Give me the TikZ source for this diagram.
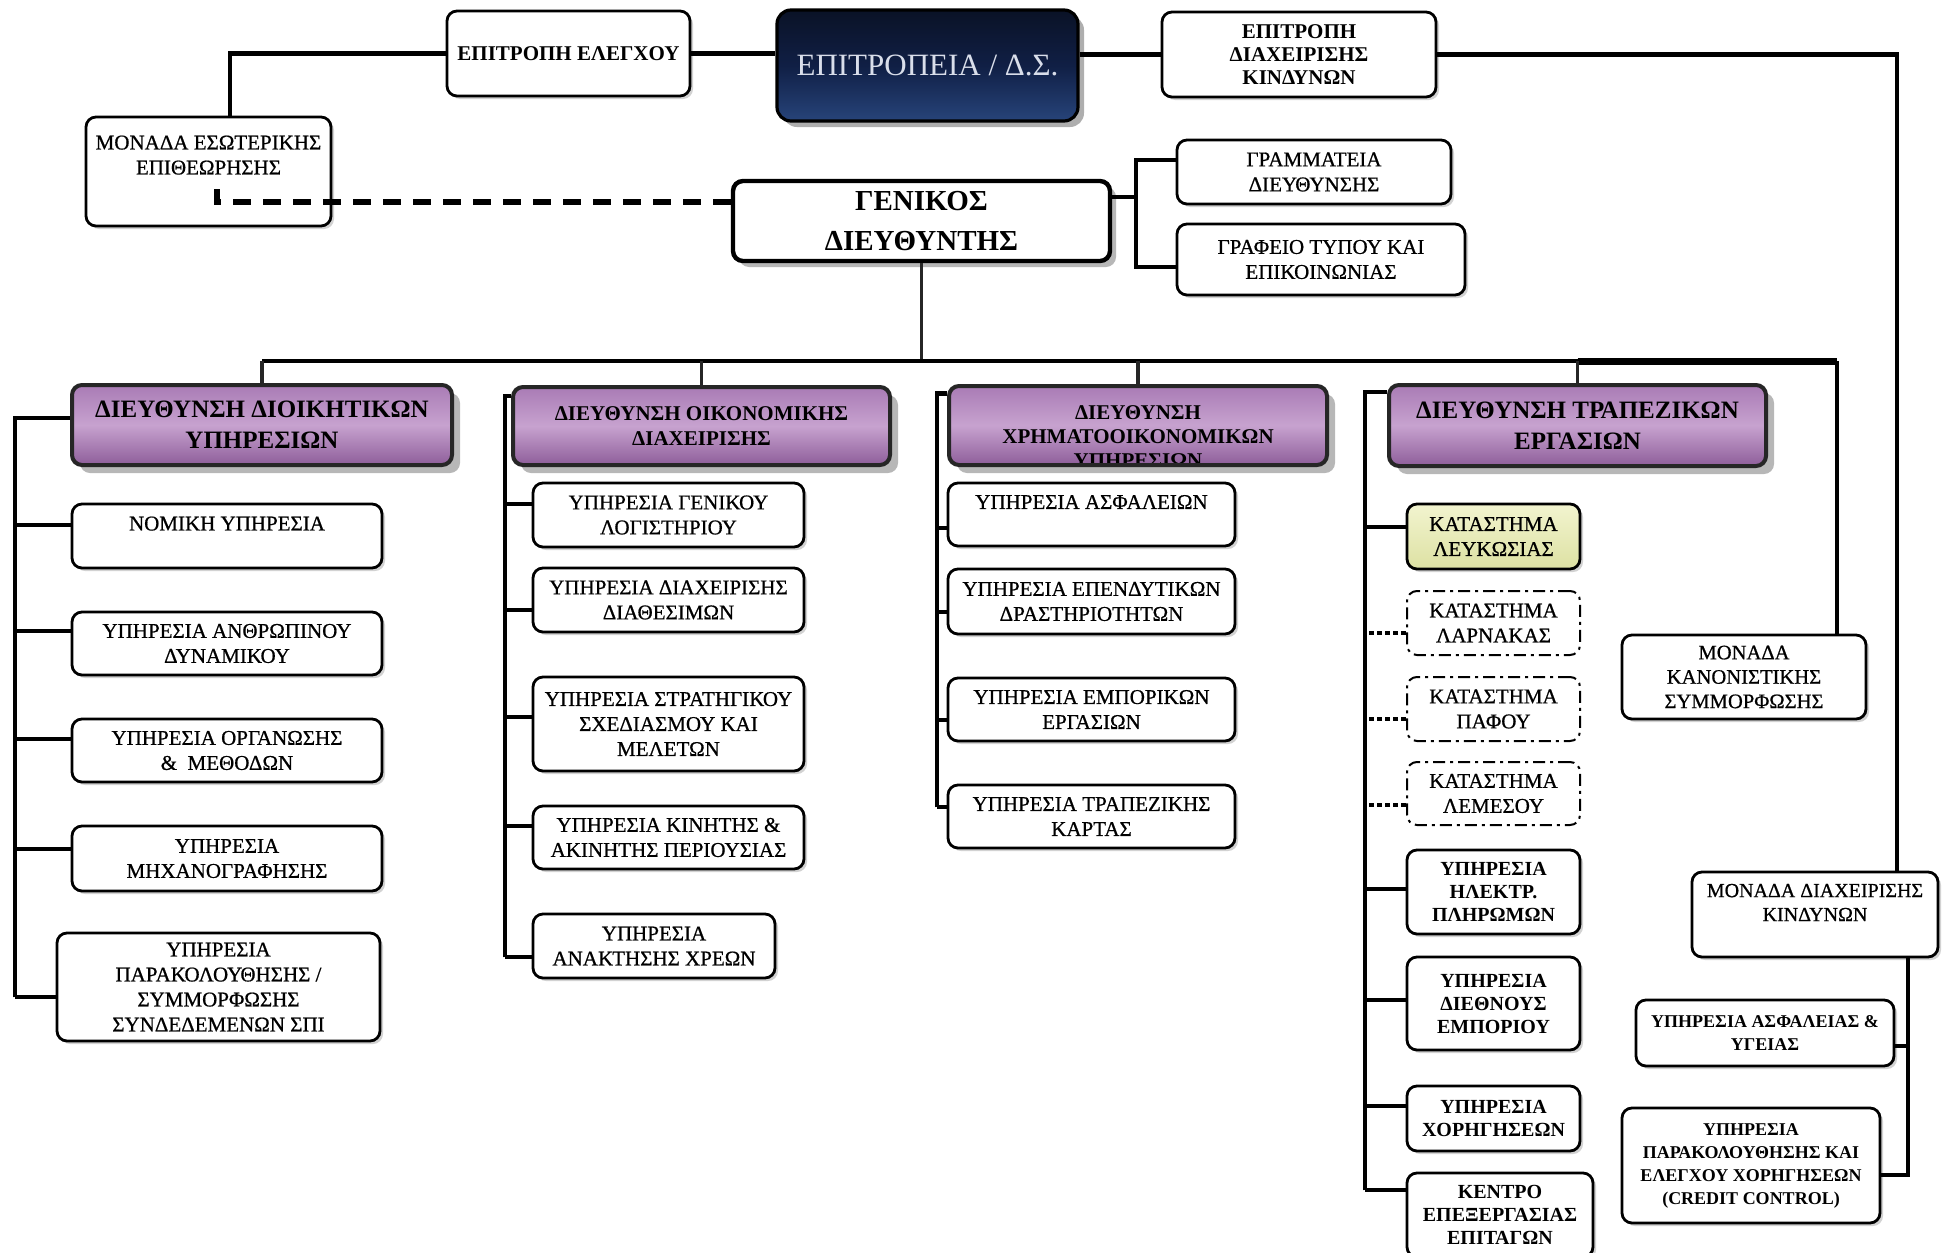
\documentclass[tikz,border=0pt]{standalone}
\usepackage{fontspec}
\setmainfont{Liberation Serif}
\newfontfamily\medfont[FakeBold=0.7]{Liberation Serif}
\usepackage{tikz}
\usetikzlibrary{shadows}

\definecolor{dirtop}{HTML}{A97BB5}
\definecolor{dirmid}{HTML}{C7A2CF}
\definecolor{dirbot}{HTML}{8E5E9A}
\definecolor{dstop}{HTML}{0A1226}
\definecolor{dsmid}{HTML}{101F45}
\definecolor{dsbot}{HTML}{27447A}
\definecolor{dstext}{HTML}{D9DEEA}
\definecolor{shoptop}{HTML}{F2F4CF}
\definecolor{shopbot}{HTML}{DDE1A3}

\tikzset{
  box/.style={draw=black, line width=1.4pt, rounded corners=5pt, fill=white, align=center, inner sep=1pt},
  boxsize/.style 2 args={minimum width=#1*0.5pt, minimum height=#2*0.5pt},
  softshadow/.style={drop shadow={shadow xshift=1.5pt, shadow yshift=-1.5pt, fill=black!35, opacity=0.5}},
  dirbox/.style={box, line width=2pt, draw=black!85, top color=dirtop, bottom color=dirbot, middle color=dirmid,
    drop shadow={shadow xshift=4pt, shadow yshift=-4pt, fill=black!40, opacity=0.7}},
  boardbox/.style={box, line width=1.6pt, rounded corners=7pt, top color=dstop, bottom color=dsbot, middle color=dsmid,
    drop shadow={shadow xshift=3pt, shadow yshift=-3pt, fill=black!45, opacity=0.7}},
  gdbox/.style={box, line width=2.2pt, drop shadow={shadow xshift=3pt, shadow yshift=-3pt, fill=black!35, opacity=0.8}},
  shopbox/.style={box, line width=1pt, dash pattern=on 6pt off 2.5pt on 1.5pt off 2.5pt},
  mainshop/.style={box, softshadow, top color=shoptop, bottom color=shopbot},
  link/.style={line width=2.3pt},
  thinlink/.style={line width=1.6pt, draw=black!85},
  dotlink/.style={line width=2.3pt, dash pattern=on 2.5pt off 1.5pt},
  dashlink/.style={line width=3pt, dash pattern=on 9pt off 6pt},
  subfont/.style={font=\medfont\fontsize{10.5}{12.5}\selectfont},
  topbold/.style={font=\fontsize{10.5}{11.5}\selectfont\bfseries},
  dsfont/.style={font=\fontsize{15.5}{18}\selectfont, text=dstext},
  gdfont/.style={font=\fontsize{14.5}{20}\selectfont\bfseries},
  bigdir/.style={font=\fontsize{12.5}{15.5}\selectfont\bfseries},
  smalldir/.style={font=\fontsize{10.5}{12.5}\selectfont\bfseries},
  boldsub/.style={font=\fontsize{10}{11.5}\selectfont\bfseries},
  rightbold/.style={font=\fontsize{9}{11.5}\selectfont\bfseries},
  rightfont/.style={font=\medfont\fontsize{10.3}{12.2}\selectfont}
}

\begin{document}
\begin{tikzpicture}[x=0.5pt,y=-0.5pt]

\fill[white] (0,0) rectangle (1951,1253);
\useasboundingbox (0,0) rectangle (1951,1253);

% Board and committees
\node[box, softshadow, topbold, boxsize={243}{85}] (elegxou) at (568.5,53.5) {ΕΠΙΤΡΟΠΗ ΕΛΕΓΧΟΥ};
\node[boardbox, dsfont, boxsize={301}{111}] (ds) at (927.5,65.5) {ΕΠΙΤΡΟΠΕΙΑ / Δ.Σ.};
\node[box, softshadow, topbold, boxsize={274}{85}] (ediax) at (1299,54.5) {ΕΠΙΤΡΟΠΗ\\ΔΙΑΧΕΙΡΙΣΗΣ\\ΚΙΝΔΥΝΩΝ};
\node[box, softshadow, subfont, boxsize={245}{109}] (mese) at (208.5,171.5) {ΜΟΝΑΔΑ ΕΣΩΤΕΡΙΚΗΣ\\ΕΠΙΘΕΩΡΗΣΗΣ\\[4pt]\mbox{}};

% General manager and staff
\node[gdbox, gdfont, boxsize={377}{80}] (gd) at (921.5,221) {ΓΕΝΙΚΟΣ\\ΔΙΕΥΘΥΝΤΗΣ};
\node[box, softshadow, subfont, boxsize={274}{64}] (gram) at (1314,172) {ΓΡΑΜΜΑΤΕΙΑ\\ΔΙΕΥΘΥΝΣΗΣ};
\node[box, softshadow, subfont, boxsize={288}{71}] (graf) at (1321,259.5) {ΓΡΑΦΕΙΟ ΤΥΠΟΥ ΚΑΙ\\ΕΠΙΚΟΙΝΩΝΙΑΣ};

% Directorates
\node[dirbox, bigdir, boxsize={380}{80}] (dioik) at (262,425) {ΔΙΕΥΘΥΝΣΗ ΔΙΟΙΚΗΤΙΚΩΝ\\ΥΠΗΡΕΣΙΩΝ};
\node[dirbox, smalldir, boxsize={377}{78}] (oik) at (701.5,426) {ΔΙΕΥΘΥΝΣΗ ΟΙΚΟΝΟΜΙΚΗΣ\\ΔΙΑΧΕΙΡΙΣΗΣ};
\node[dirbox, boxsize={378}{79},
  path picture={\node[align=center, inner sep=0pt, font=\fontsize{10.5}{12}\selectfont\bfseries] (xrimtext)
    at ([yshift=-5.5pt]path picture bounding box.center) {ΔΙΕΥΘΥΝΣΗ\\ΧΡΗΜΑΤΟΟΙΚΟΝΟΜΙΚΩΝ\\ΥΠΗΡΕΣΙΩΝ};}]
  (xrim) at (1138,425.5) {};
\node[dirbox, bigdir, boxsize={377}{81}] (trap) at (1577.5,425.5) {ΔΙΕΥΘΥΝΣΗ ΤΡΑΠΕΖΙΚΩΝ\\ΕΡΓΑΣΙΩΝ};

% Administrative services
\node[box, softshadow, subfont, boxsize={310}{64}] (nom) at (227,536) {ΝΟΜΙΚΗ ΥΠΗΡΕΣΙΑ\\\mbox{}};
\node[box, softshadow, subfont, boxsize={310}{63}] (anth) at (227,643.5) {ΥΠΗΡΕΣΙΑ ΑΝΘΡΩΠΙΝΟΥ\\ΔΥΝΑΜΙΚΟΥ};
\node[box, softshadow, subfont, boxsize={310}{63}] (org) at (227,750.5) {ΥΠΗΡΕΣΙΑ ΟΡΓΑΝΩΣΗΣ\\\&\ \ ΜΕΘΟΔΩΝ};
\node[box, softshadow, subfont, boxsize={310}{65}] (mix) at (227,858.5) {ΥΠΗΡΕΣΙΑ\\ΜΗΧΑΝΟΓΡΑΦΗΣΗΣ};
\node[box, softshadow, subfont, boxsize={323}{108}] (park) at (218.5,987) {ΥΠΗΡΕΣΙΑ\\ΠΑΡΑΚΟΛΟΥΘΗΣΗΣ /\\ΣΥΜΜΟΡΦΩΣΗΣ\\ΣΥΝΔΕΔΕΜΕΝΩΝ ΣΠΙ};

% Financial management services
\node[box, softshadow, subfont, boxsize={271}{64}] (lgen) at (668.5,515) {ΥΠΗΡΕΣΙΑ ΓΕΝΙΚΟΥ\\ΛΟΓΙΣΤΗΡΙΟΥ};
\node[box, softshadow, subfont, boxsize={271}{64}] (diath) at (668.5,600) {ΥΠΗΡΕΣΙΑ ΔΙΑΧΕΙΡΙΣΗΣ\\ΔΙΑΘΕΣΙΜΩΝ};
\node[box, softshadow, subfont, boxsize={271}{94}] (strat) at (668.5,724) {ΥΠΗΡΕΣΙΑ ΣΤΡΑΤΗΓΙΚΟΥ\\ΣΧΕΔΙΑΣΜΟΥ ΚΑΙ\\ΜΕΛΕΤΩΝ};
\node[box, softshadow, subfont, boxsize={271}{63}] (kin) at (668.5,837.5) {ΥΠΗΡΕΣΙΑ ΚΙΝΗΤΗΣ \&\\ΑΚΙΝΗΤΗΣ ΠΕΡΙΟΥΣΙΑΣ};
\node[box, softshadow, subfont, boxsize={242}{64}] (anak) at (654,946) {ΥΠΗΡΕΣΙΑ\\ΑΝΑΚΤΗΣΗΣ ΧΡΕΩΝ};

% Treasury services
\node[box, softshadow, subfont, boxsize={287}{63}] (asf) at (1091.5,514.5) {ΥΠΗΡΕΣΙΑ ΑΣΦΑΛΕΙΩΝ\\\mbox{}};
\node[box, softshadow, subfont, boxsize={287}{65}] (epend) at (1091.5,601.5) {ΥΠΗΡΕΣΙΑ ΕΠΕΝΔΥΤΙΚΩΝ\\ΔΡΑΣΤΗΡΙΟΤΗΤΩΝ};
\node[box, softshadow, subfont, boxsize={287}{63}] (empor) at (1091.5,709.5) {ΥΠΗΡΕΣΙΑ ΕΜΠΟΡΙΚΩΝ\\ΕΡΓΑΣΙΩΝ};
\node[box, softshadow, subfont, boxsize={287}{63}] (karta) at (1091.5,816.5) {ΥΠΗΡΕΣΙΑ ΤΡΑΠΕΖΙΚΗΣ\\ΚΑΡΤΑΣ};

% Banking operations: branches and services
\node[mainshop, subfont, boxsize={173}{65}] (lef) at (1493.5,536.5) {ΚΑΤΑΣΤΗΜΑ\\ΛΕΥΚΩΣΙΑΣ};
\node[shopbox, subfont, boxsize={173}{64}] (larn) at (1493.5,623) {ΚΑΤΑΣΤΗΜΑ\\ΛΑΡΝΑΚΑΣ};
\node[shopbox, subfont, boxsize={173}{64}] (paf) at (1493.5,709) {ΚΑΤΑΣΤΗΜΑ\\ΠΑΦΟΥ};
\node[shopbox, subfont, boxsize={173}{63}] (lem) at (1493.5,793.5) {ΚΑΤΑΣΤΗΜΑ\\ΛΕΜΕΣΟΥ};
\node[box, softshadow, boldsub, boxsize={173}{84}] (ilek) at (1493.5,892) {ΥΠΗΡΕΣΙΑ\\ΗΛΕΚΤΡ.\\ΠΛΗΡΩΜΩΝ};
\node[box, softshadow, boldsub, boxsize={173}{93}] (dieth) at (1493.5,1003.5) {ΥΠΗΡΕΣΙΑ\\ΔΙΕΘΝΟΥΣ\\ΕΜΠΟΡΙΟΥ};
\node[box, softshadow, boldsub, boxsize={173}{65}] (xor) at (1493.5,1118.5) {ΥΠΗΡΕΣΙΑ\\ΧΟΡΗΓΗΣΕΩΝ};
\node[box, softshadow, boldsub, boxsize={186}{84}] (kentro) at (1500,1215) {ΚΕΝΤΡΟ\\ΕΠΕΞΕΡΓΑΣΙΑΣ\\ΕΠΙΤΑΓΩΝ};

% Compliance and risk units
\node[box, softshadow, rightfont, boxsize={244}{84}] (kanon) at (1744,677) {ΜΟΝΑΔΑ\\ΚΑΝΟΝΙΣΤΙΚΗΣ\\ΣΥΜΜΟΡΦΩΣΗΣ};
\node[box, softshadow, font=\medfont\fontsize{10}{12}\selectfont, boxsize={246}{85}] (mdk) at (1815,914.5) {ΜΟΝΑΔΑ ΔΙΑΧΕΙΡΙΣΗΣ\\ΚΙΝΔΥΝΩΝ\\\mbox{}};
\node[box, softshadow, rightbold, boxsize={258}{66}] (ygeia) at (1765,1033) {ΥΠΗΡΕΣΙΑ ΑΣΦΑΛΕΙΑΣ \&\\ΥΓΕΙΑΣ};
\node[box, softshadow, rightbold, boxsize={258}{115}] (credit) at (1751,1165.5) {ΥΠΗΡΕΣΙΑ\\ΠΑΡΑΚΟΛΟΥΘΗΣΗΣ ΚΑΙ\\ΕΛΕΓΧΟΥ ΧΟΡΗΓΗΣΕΩΝ\\(CREDIT CONTROL)};

% Top line
\draw[link] ([xshift=10.75pt]mese.north) |- (elegxou.west);
\draw[link] (elegxou.east) -- (elegxou.east -| ds.west);
\draw[link] (ediax.west -| ds.east) -- (ediax.west);
\draw[link] (ediax.east) -| ([xshift=41pt]mdk.north);

% Dashed reporting line
\coordinate (meseend) at (217,189);
\draw[dashlink] ([yshift=9.5pt]gd.west) -| (meseend);

% Staff bracket
\coordinate (gdbr) at (1136,197);
\draw[link] ([yshift=12pt]gd.east) -- (gdbr);
\draw[link] (gdbr) |- ([yshift=6pt]gram.west);
\draw[link] (gdbr) |- ([yshift=-3.75pt]graf.west);

% Main bus
\coordinate (bus) at (921.5,361);
\coordinate (busend) at (1837,361);
\draw[thinlink] (gd.south) -- (bus);
\draw[link] (dioik.north |- bus) -- (busend);
\draw[line width=3.5pt] (trap.north |- bus) -- (busend);
\draw[link] (busend) -- ([xshift=46.5pt]kanon.north);
\foreach \n in {dioik,oik,xrim,trap}
  \draw[thinlink] (\n.north) -- (\n.north |- bus);

% Column 1
\coordinate (c1end) at (15,997);
\draw[link] ([yshift=3.5pt]dioik.west) -| (c1end);
\foreach \n/\dy in {nom/5.5,anth/6.25,org/5.75,mix/4.75,park/-5}
  \draw[link] (c1end) |- ([yshift=\dy pt]\n.west);

% Column 2
\coordinate (c2end) at (505,957);
\draw[link] ([yshift=15pt]oik.west) -| (c2end);
\foreach \n/\dy in {lgen/5.5,diath/-5,strat/3.5,kin/5.75,anak/-5.5}
  \draw[link] (c2end) |- ([yshift=\dy pt]\n.west);

% Column 3
\coordinate (c3end) at (937,807);
\draw[link] ([yshift=16pt]xrim.west) -| (c3end);
\foreach \n/\dy in {asf/-6.75,epend/-5.25,empor/-5.25,karta/4.75}
  \draw[link] (c3end) |- ([yshift=\dy pt]\n.west);

% Column 4
\coordinate (c4end) at (1365,1190);
\draw[link] ([yshift=16.75pt]trap.west) -| (c4end);
\foreach \n/\dy in {lef/4.75,ilek/1.5,dieth/1.75,xor/6.25,kentro/12.5}
  \draw[link] (c4end) |- ([yshift=\dy pt]\n.west);
\foreach \n/\dy in {larn/-5,paf/-5,lem/-5.75}{
  \path ([yshift=\dy pt]\n.west) coordinate (shopin);
  \draw[dotlink] (shopin) -- (shopin -| c4end);
}

% Risk column
\draw[link] ([xshift=46.5pt]mdk.south) |- ([yshift=-6.5pt]ygeia.east);
\draw[link] ([xshift=46.5pt]mdk.south) |- ([yshift=-4.75pt]credit.east);

\end{tikzpicture}
\end{document}
